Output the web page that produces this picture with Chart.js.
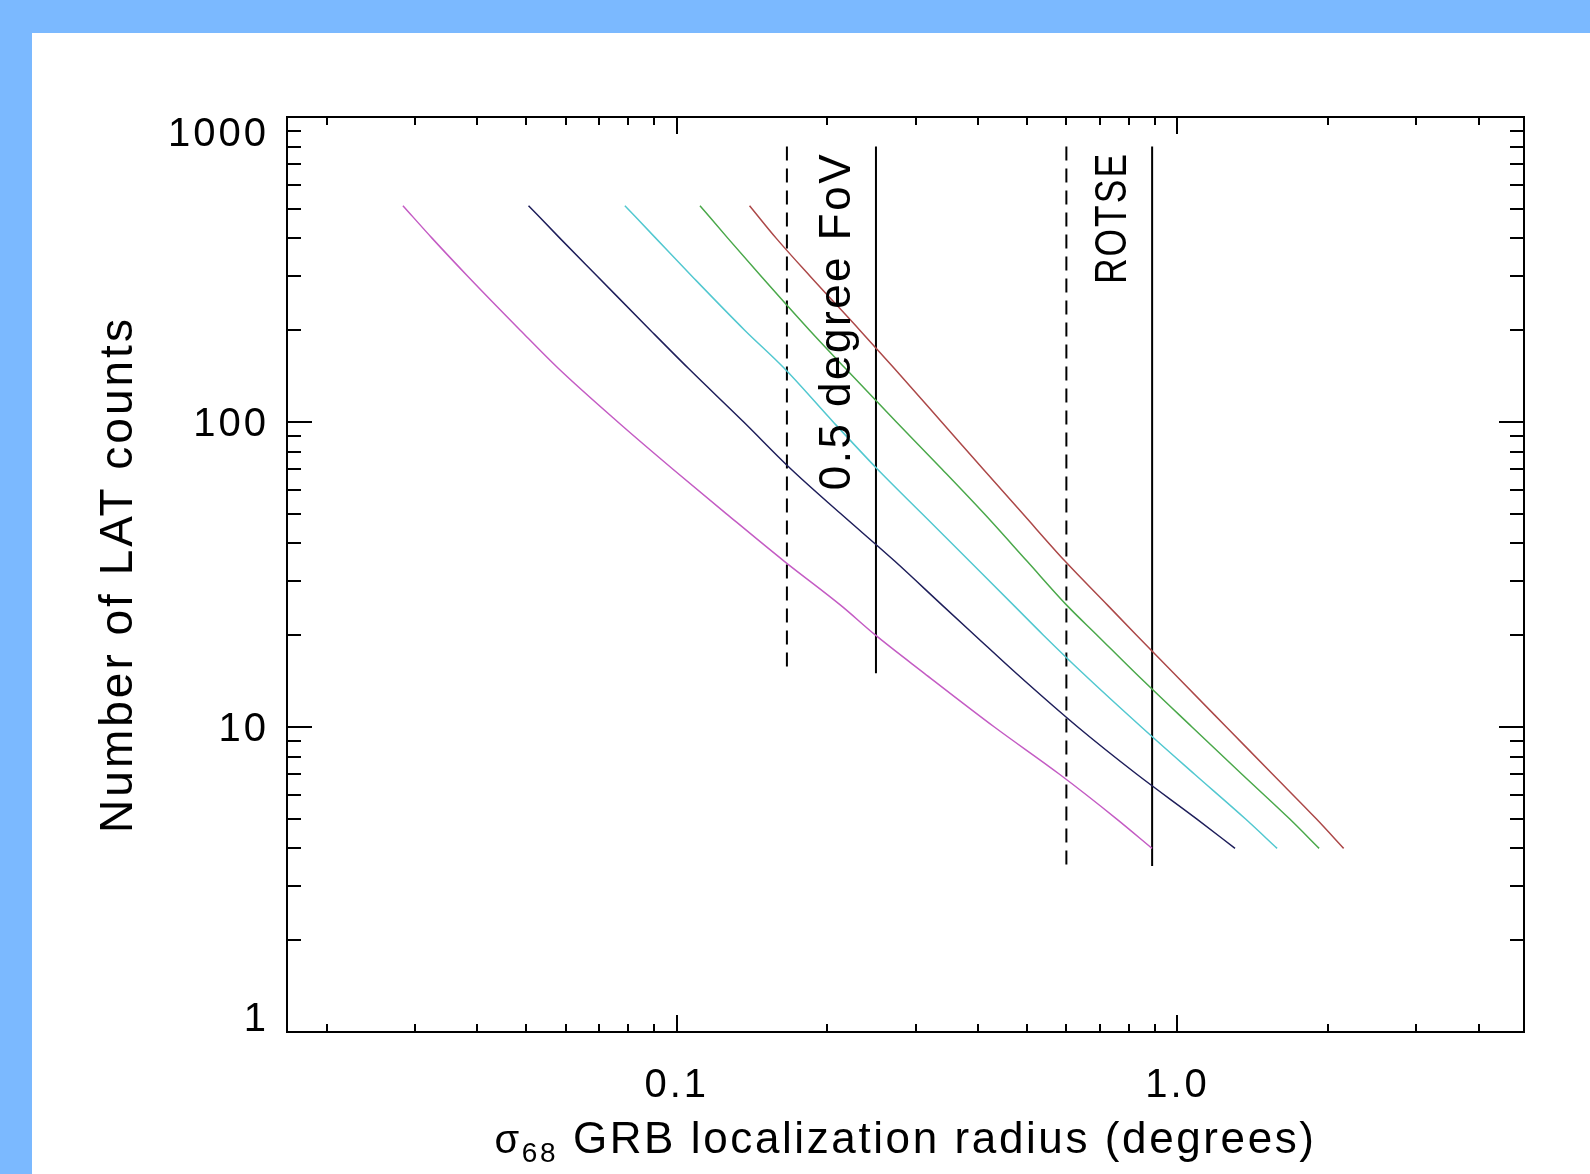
<!DOCTYPE html>
<html>
<head>
<meta charset="utf-8">
<script src="https://cdn.jsdelivr.net/npm/chart.js@4.4.1/dist/chart.umd.min.js"></script>
<style>
    html, body { margin: 0; padding: 0; width: 1590px; height: 1174px; overflow: hidden; background: #7bb9ff; }
    #panel { position: absolute; left: 32px; top: 33px; width: 1558px; height: 1141px; background: #ffffff; }
    canvas { display: block; }
</style>
</head>
<body>
<div id="panel"><canvas id="grafica" width="1558" height="1141"></canvas></div>
<script>
// =============================
// DATOS
// =============================
const cuentas = [512, 400, 300, 200, 150, 100, 70, 50, 35, 25, 20, 15, 10, 7, 5, 4];

const radioMagenta = [0.0284, 0.0325, 0.0383, 0.0487, 0.0580, 0.0763, 0.0983, 0.1257, 0.1638, 0.2130, 0.2495, 0.3122, 0.4309, 0.5814, 0.7555, 0.8897];
const radioAzul    = [0.0506, 0.0585, 0.0695, 0.0886, 0.1055, 0.1361, 0.1693, 0.2127, 0.2724, 0.3397, 0.3937, 0.4764, 0.6323, 0.8296, 1.092, 1.303];
const radioCian    = [0.0788, 0.0909, 0.1074, 0.1367, 0.1640, 0.2054, 0.2518, 0.3091, 0.3842, 0.4716, 0.5400, 0.6474, 0.8471, 1.082, 1.366, 1.581];
const radioVerde   = [0.1113, 0.1266, 0.1476, 0.1842, 0.2171, 0.2746, 0.3388, 0.4114, 0.5005, 0.6021, 0.6911, 0.8250, 1.069, 1.345, 1.674, 1.918];
const radioRojo    = [0.1398, 0.1581, 0.1849, 0.2321, 0.2718, 0.3381, 0.4095, 0.4912, 0.5961, 0.7266, 0.8286, 0.9831, 1.252, 1.549, 1.893, 2.147];

// lineas verticales (radio) y su extension en cuentas
const radiosFoV = [0.166, 0.25];
const cuentasFoV = [800, 15];
const radiosROTSE = [0.6, 0.89];
const cuentasROTSE = [800, 3.5];

const etiquetasFoV = "0.5 degree FoV";
const etiquetaROTSE = "ROTSE";

const valoresTickY = [1, 10, 100, 1000];
const etiquetasTickY = ["1", "10", "100", "1000"];
const valoresTickX = [0.1, 1.0];
const etiquetasTickX = ["0.1", "1.0"];

const tituloY = "Number of LAT counts";
const tituloX = " GRB localization radius (degrees)";

const rangoX = [0.016667, 4.92];
const rangoY = [1, 1000];

const fuente = '"Liberation Sans", Arial, sans-serif';

function serie(radios, colorLinea){
    return {
        data: cuentas.map((c, i) => ({ x: radios[i], y: c })),
        borderColor: colorLinea,
        borderWidth: 1.5,
        pointRadius: 0,
        showLine: true,
        cubicInterpolationMode: "monotone",
        fill: false
    };
}

function vertical(radio, rangoCuentas, dash){
    return {
        data: [{ x: radio, y: rangoCuentas[0] }, { x: radio, y: rangoCuentas[1] }],
        borderColor: "#000000",
        borderWidth: 2,
        borderDash: dash,
        pointRadius: 0,
        showLine: true,
        fill: false
    };
}

// =============================
// EJES ESTILO IDL (ticks hacia dentro)
// =============================
const ejesIDL = {
    id: "ejesIDL",
    afterDatasetsDraw(chart){
        const ctx = chart.ctx;
        const a = chart.chartArea;
        const x = chart.scales.x;
        const y = chart.scales.y;

        ctx.save();
        ctx.strokeStyle = "#000";
        ctx.lineWidth = 2;
        ctx.strokeRect(a.left, a.top, a.right - a.left, a.bottom - a.top);

        // ticks eje x (abajo y arriba)
        [0.01, 0.1, 1].forEach(function(d){
            for(let k = 1; k <= 9; k++){
                let v = k * d;
                if(v <= rangoX[0] || v >= rangoX[1]) continue;
                let px = Math.round(x.getPixelForValue(v));
                let largo = (k === 1) ? 17 : 8;
                ctx.beginPath();
                ctx.moveTo(px, a.bottom);
                ctx.lineTo(px, a.bottom - largo);
                ctx.moveTo(px, a.top);
                ctx.lineTo(px, a.top + largo);
                ctx.stroke();
            }
        });

        // ticks eje y (izquierda y derecha)
        [1, 10, 100].forEach(function(d){
            for(let k = 1; k <= 9; k++){
                let v = k * d;
                if(v <= rangoY[0] || v >= rangoY[1]) { if(k !== 1) continue; }
                let py = Math.round(y.getPixelForValue(v));
                let largo = (k === 1) ? 25 : 14;
                ctx.beginPath();
                ctx.moveTo(a.left, py);
                ctx.lineTo(a.left + largo, py);
                ctx.moveTo(a.right, py);
                ctx.lineTo(a.right - largo, py);
                ctx.stroke();
            }
        });

        ctx.fillStyle = "#000";
        ctx.letterSpacing = "3px";
        ctx.font = "40px " + fuente;
        ctx.textBaseline = "alphabetic";

        // etiquetas y
        ctx.textAlign = "right";
        valoresTickY.forEach(function(v, i){
            let py = y.getPixelForValue(v);
            let centro = Math.min(Math.max(py, a.top + 15), a.bottom - 15);
            ctx.fillText(etiquetasTickY[i], a.left - 18, centro + 14);
        });

        // etiquetas x
        ctx.textAlign = "center";
        valoresTickX.forEach(function(v, i){
            ctx.fillText(etiquetasTickX[i], x.getPixelForValue(v), a.bottom + 65);
        });

        // titulo x con sigma_68
        ctx.letterSpacing = "2.6px";
        ctx.textAlign = "left";
        ctx.font = "40px " + fuente;
        let w1 = ctx.measureText("σ").width;
        ctx.font = "28px " + fuente;
        let w2 = ctx.measureText("68").width;
        ctx.font = "44px " + fuente;
        let w3 = ctx.measureText(tituloX).width;
        let xi = (a.left + a.right) / 2 - (w1 + w2 + w3) / 2;
        let base = a.bottom + 121;
        ctx.font = "40px " + fuente;
        ctx.fillText("σ", xi, base);
        ctx.font = "28px " + fuente;
        ctx.fillText("68", xi + w1, base + 9);
        ctx.font = "44px " + fuente;
        ctx.fillText(tituloX, xi + w1 + w2, base);

        // titulo y
        ctx.save();
        ctx.translate(a.left - 155, (a.top + a.bottom) / 2);
        ctx.rotate(-Math.PI / 2);
        ctx.textAlign = "center";
        ctx.letterSpacing = "3px";
        ctx.font = "46px " + fuente;
        ctx.fillText(tituloY, 0, 0);
        ctx.restore();

        // textos de las lineas verticales
        ctx.letterSpacing = "2.5px";
        ctx.font = "44px " + fuente;
        ctx.save();
        ctx.translate(x.getPixelForValue(radiosFoV[1]) - 26, a.top + 35);
        ctx.rotate(-Math.PI / 2);
        ctx.textAlign = "right";
        ctx.fillText(etiquetasFoV, 0, 0, 342);
        ctx.restore();

        ctx.save();
        ctx.translate(x.getPixelForValue(radiosROTSE[1]) - 26, a.top + 35);
        ctx.rotate(-Math.PI / 2);
        ctx.textAlign = "right";
        ctx.fillText(etiquetaROTSE, 0, 0, 132);
        ctx.restore();

        ctx.restore();
    }
};

let ctx = document.getElementById("grafica").getContext("2d");

let grafica = new Chart(ctx, {
    type: "scatter",
    data: {
        datasets: [
            serie(radioMagenta, "#c45cc4"),
            serie(radioAzul, "#1e1e5a"),
            serie(radioCian, "#52c8d0"),
            serie(radioVerde, "#4aa84a"),
            serie(radioRojo, "#ac4848"),
            vertical(radiosFoV[0], cuentasFoV, [14, 8]),
            vertical(radiosFoV[1], cuentasFoV, []),
            vertical(radiosROTSE[0], cuentasROTSE, [14, 8]),
            vertical(radiosROTSE[1], cuentasROTSE, [])
        ]
    },
    options: {
        responsive: false,
        animation: false,
        layout: {
            padding: { left: 255, top: 84, right: 66, bottom: 142 }
        },
        plugins: {
            legend: { display: false },
            tooltip: { enabled: false }
        },
        scales: {
            x: {
                type: "logarithmic",
                min: rangoX[0],
                max: rangoX[1],
                display: false
            },
            y: {
                type: "logarithmic",
                min: rangoY[0],
                max: rangoY[1],
                display: false
            }
        }
    },
    plugins: [ejesIDL]
});
</script>
</body>
</html>
